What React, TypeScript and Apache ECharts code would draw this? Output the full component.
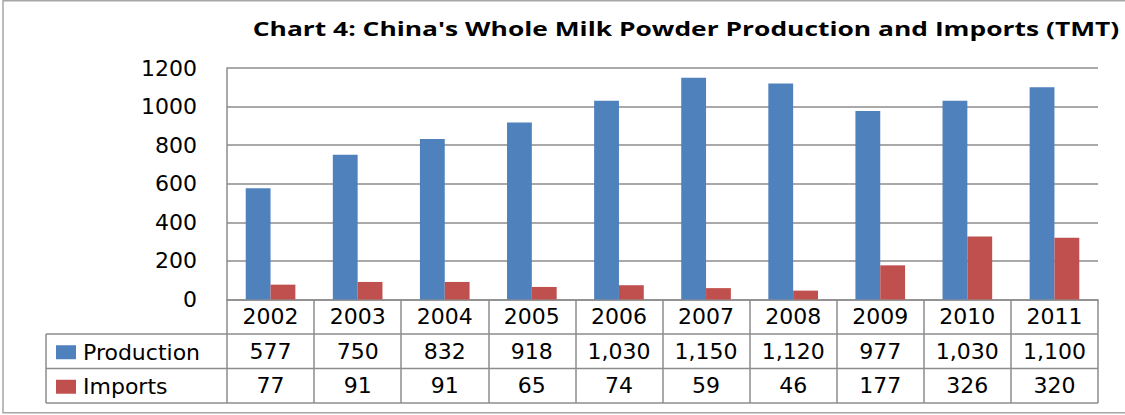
import React, { useEffect, useRef } from "react";
import * as echarts from "echarts";

// Whole milk powder, thousand metric tons
const years = ["2002", "2003", "2004", "2005", "2006", "2007", "2008", "2009", "2010", "2011"];
const production = [577, 750, 832, 918, 1030, 1150, 1120, 977, 1030, 1100];
const imports = [77, 91, 91, 65, 74, 59, 46, 177, 326, 320];
const seriesNames = ["Production", "Imports"];
const yMin = 0;
const yMax = 1200;
const yStep = 200;

const TITLE = "Chart 4: China's Whole Milk Powder Production and Imports (TMT)";

const W = 1125;
const H = 415;
const BLUE = "#4F81BD";
const RED = "#C0504D";
const LINE = "#8c8c8c";
const FONT = "'DejaVu Sans', Verdana, sans-serif";

// plot and data-table geometry
const plotLeft = 227;
const plotRight = 1098;
const plotTop = 68;
const plotBottom = 299.5;
const rowH = 34.5;
const legendColLeft = 46;

const fmt = (n: number) => n.toLocaleString("en-US");

function titleScale(): number {
  const c = document.createElement("canvas").getContext("2d");
  if (!c) return 1.15;
  c.font = "bold 20px 'Open Sans'";
  const w = c.measureText(TITLE).width;
  return w > 0 ? 867 / w : 1.15;
}

// one legend entry per table row, placed in the left column of the data table
function legendRow(name: string, row: number) {
  return {
    orient: "vertical",
    left: 56,
    top: plotBottom + rowH * row + (rowH - 14) / 2 - 3,
    padding: 0,
    itemWidth: 20,
    itemHeight: 14,
    icon: "rect",
    selectedMode: false,
    data: [name],
    textStyle: {
      fontFamily: FONT,
      fontSize: 22,
      lineHeight: 14,
      color: "#000",
      padding: [0, 0, 0, 2],
    },
  };
}

export default function App() {
  const ref = useRef<HTMLDivElement>(null);

  useEffect(() => {
    if (!ref.current) return;
    const chart = echarts.init(ref.current, undefined, { renderer: "svg" });

    const row1 = plotBottom + rowH;
    const row2 = plotBottom + rowH * 2;
    const row3 = plotBottom + rowH * 3;

    chart.setOption({
      animation: false,
      backgroundColor: "#ffffff",
      grid: {
        left: plotLeft,
        top: plotTop,
        right: W - plotRight,
        bottom: H - plotBottom,
        containLabel: false,
      },
      legend: [legendRow(seriesNames[0], 1), legendRow(seriesNames[1], 2)],
      xAxis: {
        type: "category",
        data: years,
        boundaryGap: true,
        axisLine: { show: true, lineStyle: { color: LINE, width: 1.5 } },
        axisTick: {
          show: true,
          length: rowH * 3,
          alignWithLabel: false,
          lineStyle: { color: LINE, width: 1.5 },
        },
        axisLabel: {
          interval: 0,
          margin: 0,
          formatter: (v: string, i: number) =>
            `{c|${v}}\n{c|${fmt(production[i])}}\n{c|${fmt(imports[i])}}`,
          rich: {
            c: {
              fontFamily: FONT,
              fontSize: 22,
              lineHeight: rowH,
              color: "#000",
              align: "center",
            },
          },
        },
      },
      yAxis: {
        type: "value",
        min: yMin,
        max: yMax,
        interval: yStep,
        axisLine: { show: true, lineStyle: { color: LINE, width: 1.5 } },
        axisTick: { show: false },
        splitLine: { show: true, lineStyle: { color: LINE, width: 1.5 } },
        axisLabel: {
          margin: 30,
          fontFamily: FONT,
          fontSize: 22,
          color: "#000",
          formatter: (v: number) => String(v),
        },
      },
      series: [
        {
          name: seriesNames[0],
          type: "bar",
          data: production,
          itemStyle: { color: BLUE },
          barGap: "0%",
          barCategoryGap: "43%",
        },
        {
          name: seriesNames[1],
          type: "bar",
          data: imports,
          itemStyle: { color: RED },
          barGap: "0%",
          barCategoryGap: "43%",
        },
      ],
      graphic: [
        {
          type: "rect",
          silent: true,
          shape: { x: 3, y: 0.75, width: W + 10, height: 412 },
          style: { fill: "none", stroke: "#a6a6a6", lineWidth: 1.5 },
        },
        {
          type: "text",
          x: 686,
          y: 28,
          scaleX: titleScale(),
          style: {
            text: TITLE,
            font: "bold 20px 'Open Sans'",
            fill: "#000",
            align: "center",
            verticalAlign: "middle",
          },
        },
        {
          type: "line",
          silent: true,
          shape: { x1: legendColLeft, y1: row1, x2: plotRight, y2: row1 },
          style: { stroke: LINE, lineWidth: 1.5 },
        },
        {
          type: "line",
          silent: true,
          shape: { x1: legendColLeft, y1: row2, x2: plotRight, y2: row2 },
          style: { stroke: LINE, lineWidth: 1.5 },
        },
        {
          type: "line",
          silent: true,
          shape: { x1: legendColLeft, y1: row3, x2: plotRight, y2: row3 },
          style: { stroke: LINE, lineWidth: 1.5 },
        },
        {
          type: "line",
          silent: true,
          shape: { x1: legendColLeft, y1: row1, x2: legendColLeft, y2: row3 },
          style: { stroke: LINE, lineWidth: 1.5 },
        },
      ],
    });

    return () => chart.dispose();
  }, []);

  return (
    <div
      ref={ref}
      style={{ position: "fixed", left: 0, top: 0, width: W, height: H, background: "#fff" }}
    />
  );
}
